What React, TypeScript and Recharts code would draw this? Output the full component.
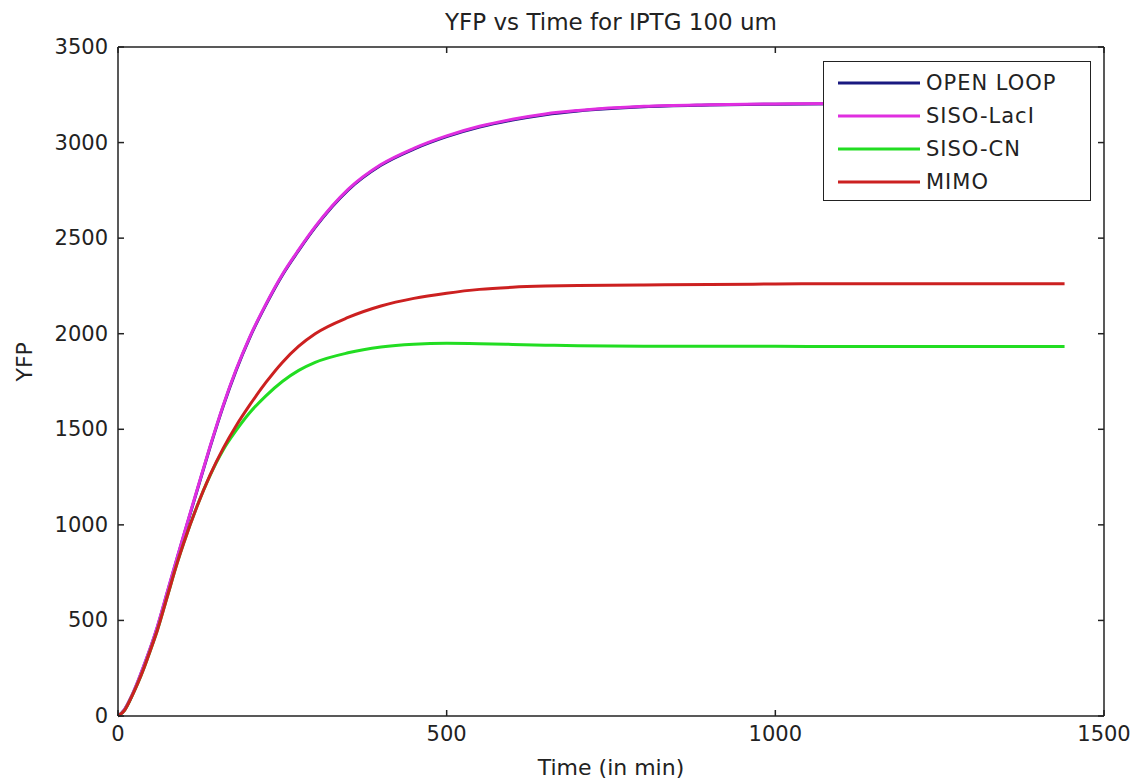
import { LineChart, Line, XAxis, YAxis, Legend } from 'recharts';

// time points (min)
const time = [0, 10, 20, 30, 40, 50, 60, 75, 90, 100, 120, 140, 160, 180, 200, 225, 250, 275, 300, 350, 400, 450, 500, 550, 600, 650, 700, 800, 900, 1000, 1100, 1200, 1300, 1440];

const openLoop = [0, 34, 98, 178, 268, 362, 466, 646, 826, 944, 1176, 1406, 1621, 1811, 1976, 2151, 2306, 2436, 2556, 2751, 2881, 2966, 3031, 3081, 3118, 3146, 3165, 3187, 3196, 3201, 3203, 3204, 3204, 3204];
const sisoLacI = [0, 35, 100, 180, 270, 365, 470, 650, 830, 948, 1180, 1410, 1625, 1815, 1980, 2155, 2310, 2440, 2560, 2755, 2885, 2970, 3035, 3085, 3122, 3150, 3168, 3190, 3198, 3202, 3204, 3205, 3205, 3205];
const sisoCN = [0, 30, 95, 170, 255, 350, 450, 625, 800, 905, 1095, 1258, 1392, 1495, 1585, 1675, 1750, 1808, 1850, 1900, 1930, 1945, 1950, 1948, 1944, 1940, 1937, 1935, 1934, 1934, 1933, 1933, 1933, 1933];
const mimo = [0, 30, 95, 170, 255, 350, 450, 625, 800, 905, 1095, 1260, 1400, 1520, 1625, 1745, 1850, 1935, 2000, 2085, 2145, 2185, 2212, 2232, 2243, 2249, 2252, 2255, 2258, 2260, 2262, 2262, 2262, 2262];

const seriesNames = ['OPEN LOOP', 'SISO-LacI', 'SISO-CN', 'MIMO'];
const xTicks = [0, 500, 1000, 1500];
const yTicks = [0, 500, 1000, 1500, 2000, 2500, 3000, 3500];

const data = time.map((t, i) => ({
  t,
  openLoop: openLoop[i],
  sisoLacI: sisoLacI[i],
  sisoCN: sisoCN[i],
  mimo: mimo[i],
}));

const W = 1136;
const H = 782;
const LEFT = 118;
const RIGHT = 1104;
const TOP = 47;
const BOTTOM = 716;
const FONT = '"DejaVu Sans", sans-serif';
const AXIS = '#222';

const XTick = (props: any) => {
  const { x, payload } = props;
  return (
    <g>
      <line x1={x} x2={x} y1={BOTTOM} y2={BOTTOM - 6} stroke={AXIS} strokeWidth={1.5} />
      <line x1={x} x2={x} y1={TOP} y2={TOP + 6} stroke={AXIS} strokeWidth={1.5} />
      <text x={x} y={BOTTOM + 18} textAnchor="middle" dominantBaseline="central" fontSize={21} fill={AXIS} fontFamily={FONT}>
        {payload.value}
      </text>
    </g>
  );
};

const YTick = (props: any) => {
  const { y, payload } = props;
  return (
    <g>
      <line x1={LEFT} x2={LEFT + 6} y1={y} y2={y} stroke={AXIS} strokeWidth={1.5} />
      <line x1={RIGHT} x2={RIGHT - 6} y1={y} y2={y} stroke={AXIS} strokeWidth={1.5} />
      <text x={LEFT - 10} y={y} textAnchor="end" dominantBaseline="central" fontSize={21} fill={AXIS} fontFamily={FONT}>
        {payload.value}
      </text>
    </g>
  );
};

const LegendBox = (props: any) => {
  const items = [...(props.payload || [])].sort(
    (a: any, b: any) => seriesNames.indexOf(a.value) - seriesNames.indexOf(b.value)
  );
  return (
    <div style={{ border: '1.5px solid #222', background: '#fff', width: 268, height: 140, boxSizing: 'border-box', paddingTop: 4 }}>
      {items.map((p: any) => (
        <div key={p.value} style={{ display: 'flex', alignItems: 'center', height: 33 }}>
          <svg width={102} height={10}>
            <line x1={14} x2={96} y1={5} y2={5} stroke={p.color} strokeWidth={3} />
          </svg>
          <span style={{ fontFamily: FONT, fontSize: 21, color: '#222', letterSpacing: 1 }}>{p.value}</span>
        </div>
      ))}
    </div>
  );
};

export default function App() {
  return (
    <div style={{ position: 'absolute', left: 0, top: 0, width: W, height: H, background: '#fff' }}>
      <LineChart width={W} height={H} data={data} margin={{ top: 0, right: 0, bottom: 0, left: 0 }}>
        <XAxis
          xAxisId="bottom"
          dataKey="t"
          type="number"
          domain={[0, 1500]}
          ticks={xTicks}
          height={H - BOTTOM}
          tickLine={false}
          tick={<XTick />}
          stroke={AXIS}
          strokeWidth={1.5}
          label={{ value: 'Time (in min)', position: 'insideBottom', offset: 7, fontSize: 22, fill: AXIS, fontFamily: FONT }}
        />
        <XAxis xAxisId="top" orientation="top" dataKey="t" type="number" domain={[0, 1500]} height={TOP} tick={false} tickLine={false} stroke={AXIS} strokeWidth={1.5} />
        <YAxis
          yAxisId="left"
          domain={[0, 3500]}
          ticks={yTicks}
          width={LEFT}
          tickLine={false}
          tick={<YTick />}
          stroke={AXIS}
          strokeWidth={1.5}
          label={{ value: 'YFP', angle: -90, position: 'insideLeft', offset: 24, fontSize: 22, fill: AXIS, fontFamily: FONT }}
        />
        <YAxis yAxisId="right" orientation="right" domain={[0, 3500]} width={W - RIGHT} tick={false} tickLine={false} stroke={AXIS} strokeWidth={1.5} />
        <text x={(LEFT + RIGHT) / 2} y={22} textAnchor="middle" dominantBaseline="central" fontSize={23} fill={AXIS} fontFamily={FONT}>
          YFP vs Time for IPTG 100 um
        </text>
        <Legend
          layout="vertical"
          align="center"
          verticalAlign="middle"
          itemSorter={null}
          content={<LegendBox />}
          wrapperStyle={{ position: 'absolute', left: 823, top: 61, width: 270, height: 142 }}
        />
        <Line xAxisId="bottom" yAxisId="left" name="OPEN LOOP" dataKey="openLoop" type="monotone" stroke="#1a1a80" strokeWidth={3} dot={false} isAnimationActive={false} />
        <Line xAxisId="bottom" yAxisId="left" name="SISO-LacI" dataKey="sisoLacI" type="monotone" stroke="#e02ee0" strokeWidth={3} dot={false} isAnimationActive={false} />
        <Line xAxisId="bottom" yAxisId="left" name="SISO-CN" dataKey="sisoCN" type="monotone" stroke="#22dd22" strokeWidth={3} dot={false} isAnimationActive={false} />
        <Line xAxisId="bottom" yAxisId="left" name="MIMO" dataKey="mimo" type="monotone" stroke="#cc2020" strokeWidth={3} dot={false} isAnimationActive={false} />
      </LineChart>
    </div>
  );
}
